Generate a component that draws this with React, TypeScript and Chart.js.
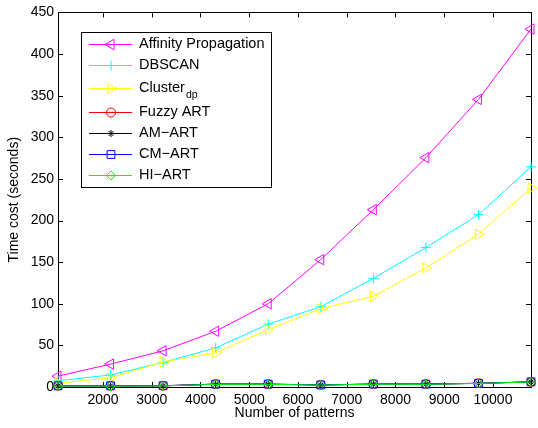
import { useEffect, useRef } from "react";
import { Chart, registerables } from "chart.js";
import { drawPoint } from "chart.js/helpers";

Chart.register(...registerables);

// ---- data ----
const patterns = [1078, 2156, 3234, 4312, 5390, 6468, 7546, 8624, 9702, 10780];
const affinityPropagation = [13, 27.5, 43.5, 67, 100, 153, 213, 275.5, 345.5, 430];
const dbscan = [7.5, 14.5, 29.5, 47, 75.5, 96.5, 130.5, 167.5, 207, 264.5];
const clusterDp = [4.5, 11, 30, 41, 69, 94, 109, 143, 183.5, 239];
const fuzzyArt = [1.5, 1.5, 1.5, 3.5, 3.5, 2.5, 3.5, 3.5, 4.5, 6];
const amArt = [1.3, 1.3, 1.4, 3.3, 3.3, 2.4, 3.4, 3.3, 4.4, 6.1];
const cmArt = [1.4, 1.4, 1.5, 3.4, 3.4, 2.5, 3.5, 3.4, 4.5, 6.2];
const hiArt = [1.2, 1.2, 1.3, 3.2, 3.2, 2.3, 3.3, 3.2, 4.3, 6];
const xTicks = [2000, 3000, 4000, 5000, 6000, 7000, 8000, 9000, 10000];
const yTicks = [0, 50, 100, 150, 200, 250, 300, 350, 400, 450];

const seriesNames = ["Affinity Propagation", "DBSCAN", "Cluster", "Fuzzy ART", "AM\u2212ART", "CM\u2212ART", "HI\u2212ART"];
const seriesSubscripts = ["", "", "dp", "", "", "", ""];
const seriesValues = [affinityPropagation, dbscan, clusterDp, fuzzyArt, amArt, cmArt, hiArt];

// ---- styles ----
const seriesColors = ["#ff00ff", "#00ffff", "#ffff00", "#ff0000", "#000000", "#0000ff", "#00ff00"];
const seriesMarkers = ["triangle", "cross", "triangle", "circle", "star", "rect", "rectRot"];
const seriesRotations = [270, 0, 90, 0, 0, 0, 0];
const seriesRadius = [6, 5, 6, 4.5, 3.5, 5.5, 4.5];

const FONT = "'Liberation Sans', Arial, Helvetica, sans-serif";

const boxPlugin = {
  id: "matlabBox",
  beforeDatasetsDraw(chart: any) {
    const { ctx, chartArea } = chart;
    const { left, right, top, bottom } = chartArea;
    const xs = chart.scales.x;
    const ys = chart.scales.y;
    const tl = 5;
    ctx.save();
    ctx.strokeStyle = "#000";
    ctx.lineWidth = 1;
    ctx.beginPath();
    for (const v of xTicks) {
      const px = Math.round(xs.getPixelForValue(v)) + 0.5;
      ctx.moveTo(px, bottom);
      ctx.lineTo(px, bottom - tl);
      ctx.moveTo(px, top);
      ctx.lineTo(px, top + tl);
    }
    for (const v of yTicks) {
      const py = Math.round(ys.getPixelForValue(v)) + 0.5;
      ctx.moveTo(left, py);
      ctx.lineTo(left + tl, py);
      ctx.moveTo(right, py);
      ctx.lineTo(right - tl, py);
    }
    ctx.stroke();
    ctx.strokeRect(Math.round(left) + 0.5, Math.round(top) + 0.5, Math.round(right - left), Math.round(bottom - top));
    ctx.restore();
  },
};

const legendPlugin = {
  id: "matlabLegend",
  afterDatasetsDraw(chart: any) {
    const { ctx } = chart;
    const bx = 81, by = 32, bw = 190, bh = 155;
    const rowY = [44, 65, 88, 112, 133, 154, 175];
    ctx.save();
    ctx.fillStyle = "#fff";
    ctx.fillRect(bx, by, bw, bh);
    ctx.strokeStyle = "#000";
    ctx.lineWidth = 1;
    ctx.strokeRect(bx + 0.5, by + 0.5, bw, bh);
    seriesNames.forEach((name, i) => {
      const y = rowY[i];
      ctx.strokeStyle = seriesColors[i];
      ctx.lineWidth = 1;
      ctx.beginPath();
      ctx.moveTo(89, y + 0.5);
      ctx.lineTo(132, y + 0.5);
      ctx.stroke();
      ctx.fillStyle = "rgba(0,0,0,0)";
      drawPoint(ctx, { pointStyle: seriesMarkers[i], radius: seriesRadius[i], rotation: seriesRotations[i], borderWidth: 1 } as any, 111, y + 0.5);
      ctx.fillStyle = "#000";
      ctx.textBaseline = "middle";
      ctx.textAlign = "left";
      ctx.font = `14.5px ${FONT}`;
      ctx.fillText(name, 139, y);
      if (seriesSubscripts[i]) {
        const w = ctx.measureText(name).width;
        ctx.font = `10.5px ${FONT}`;
        ctx.fillText(seriesSubscripts[i], 139 + w + 1, y + 7);
      }
    });
    ctx.restore();
  },
};

export default function App() {
  const ref = useRef<HTMLCanvasElement | null>(null);
  useEffect(() => {
    if (!ref.current) return;
    const n = seriesNames.length;
    const chart = new Chart(ref.current, {
      type: "line",
      data: {
        datasets: seriesValues.map((vals, i) => ({
          label: seriesNames[i] + seriesSubscripts[i],
          data: vals.map((v, k) => ({ x: patterns[k], y: v })),
          borderColor: seriesColors[i],
          backgroundColor: "rgba(0,0,0,0)",
          borderWidth: 1,
          pointStyle: seriesMarkers[i] as any,
          pointRadius: seriesRadius[i],
          pointRotation: seriesRotations[i],
          pointBorderColor: seriesColors[i],
          pointBackgroundColor: "rgba(0,0,0,0)",
          pointBorderWidth: 1,
          tension: 0,
          clip: false as any,
          order: n - i,
        })),
      },
      options: {
        animation: false,
        responsive: true,
        maintainAspectRatio: false,
        layout: { padding: { top: 12, right: 3, left: 0, bottom: 0 } },
        plugins: { legend: { display: false }, tooltip: { enabled: false } },
        scales: {
          x: {
            type: "linear",
            min: patterns[0],
            max: patterns[patterns.length - 1],
            afterBuildTicks: (s: any) => {
              s.ticks = xTicks.map((v) => ({ value: v }));
            },
            afterFit: (s: any) => {
              s.height = 41;
            },
            grid: { display: false, drawTicks: false },
            border: { display: false },
            ticks: { color: "#000", font: { family: FONT, size: 14 }, padding: 5, maxRotation: 0, autoSkip: false, callback: (v: any) => String(v) },
            title: { display: true, text: "Number of patterns", color: "#000", font: { family: FONT, size: 14 }, padding: { top: 0, bottom: 6 } },
          },
          y: {
            type: "linear",
            min: 0,
            max: 450,
            afterBuildTicks: (s: any) => {
              s.ticks = yTicks.map((v) => ({ value: v }));
            },
            afterFit: (s: any) => {
              s.width = 58;
            },
            grid: { display: false, drawTicks: false },
            border: { display: false },
            ticks: { color: "#000", font: { family: FONT, size: 14 }, padding: 4, callback: (v: any) => String(v) },
            title: { display: true, text: "Time cost (seconds)", color: "#000", font: { family: FONT, size: 14 }, padding: { top: 6, bottom: 0 } },
          },
        },
      },
      plugins: [boxPlugin, legendPlugin],
    });
    return () => chart.destroy();
  }, []);
  return (
    <div style={{ position: "absolute", left: 0, top: 0, width: 538, height: 428, background: "#fff" }}>
      <canvas ref={ref} />
    </div>
  );
}
